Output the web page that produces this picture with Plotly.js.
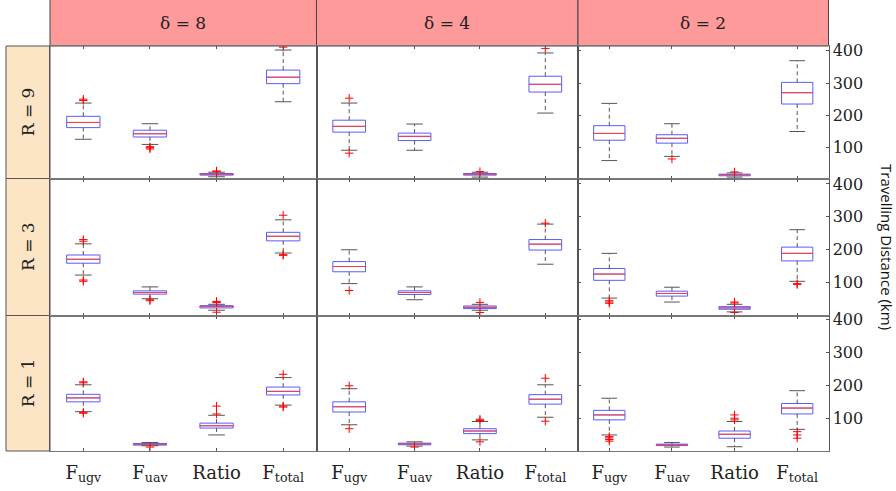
<!DOCTYPE html>
<html>
<head>
<meta charset="utf-8">
<script src="https://cdn.plot.ly/plotly-3.0.1.min.js"></script>
<style>html,body{margin:0;padding:0;background:#fff;}#chart{width:896px;height:491px;}</style>
</head>
<body>
<div id="chart"></div>
<script>
// ---------- data ----------
const categories = ['F<sub>ugv</sub>', 'F<sub>uav</sub>', 'Ratio', 'F<sub>total</sub>'];
const deltaLabels = ['δ = 8', 'δ = 4', 'δ = 2'];
const rLabels = ['R = 9', 'R = 3', 'R = 1'];
const tickValsY = [100, 200, 300, 400];

// each array: [δ=8, δ=4, δ=2], each entry: [F_ugv, F_uav, Ratio, F_total]
const lowR9 = [[126,110,10,242],[92,92,9,207],[60,73,9,150]];
const q1R9  = [[162,133,15,298],[148,122,15,272],[123,114,13,235]];
const medR9 = [[178,143,18,318],[166,135,18,296],[144,129,16,270]];
const q3R9  = [[197,154,20,340],[185,145,20,321],[168,140,18,302]];
const upR9  = [[238,174,24,402],[238,173,24,393],[237,174,22,369]];
const outR9 = [[[250,246],[103,100,96],[26,28],[411]],[[253,83],[],[26],[407]],[[],[65],[25],[]]];

const lowR3 = [[123,51,16,190],[97,48,16,156],[53,41,11,104]];
const q1R3  = [[159,65,23,227],[133,64,21,199],[107,59,19,166]];
const medR3 = [[171,70,27,241],[149,70,25,217],[126,67,23,189]];
const q3R3  = [[184,75,30,253],[164,75,29,231],[143,74,27,208]];
const upR3  = [[218,87,34,291],[200,87,34,278],[189,86,34,261]];
const outR3 = [[[231,226,108,104],[45,48],[41,39,43,10],[305,185,183]],[[76],[],[40,9],[281]],[[45,41,37],[],[41,38,9],[94,97]]];

const lowR1 = [[120,16,49,140],[80,15,34,103],[49,12,13,66]];
const q1R1  = [[150,18,70,171],[119,19,53,143],[95,16.5,39,113]];
const medR1 = [[162,20.5,77,182],[135,21.6,61,158],[110,18.6,51,131]];
const q3R1  = [[173,23,85,195],[150,24,68,172],[124,21,61,145]];
const upR1  = [[202,26,109,224],[190,28,90,202],[161,26,90,184]];
const outR1 = [[[211,208,115,118],[12],[137,113],[234,134,137]],[[199,68],[12],[97,93,28],[222,91]],[[44,40,35,30],[],[110,100,95],[59,49,39]]];

const rowsData = [
  {low: lowR9, q1: q1R9, med: medR9, q3: q3R9, up: upR9, out: outR9},
  {low: lowR3, q1: q1R3, med: medR3, q3: q3R3, up: upR3, out: outR3},
  {low: lowR1, q1: q1R1, med: medR1, q3: q3R1, up: upR1, out: outR1}
];

// ---------- layout geometry ----------
const W = 896, H = 491;
const colPx = [[50,316.5],[316.5,578],[578,828.5]];
const rowPx = [[46,178.5],[178.5,315.5],[315.5,451]];
const rowRange = [[4.6,414.5],[0,416.7],[0,413.4]];
const serif = 'DejaVu Serif';
const boxColor = 'rgb(90,90,255)';
const medColor = 'rgb(255,60,60)';
const whiskColor = '#555';

const boxTraces = [], lineTraces = [], ptTraces = [];
const layout = {
  width: W, height: H,
  margin: {l:0, r:0, t:0, b:0},
  paper_bgcolor: '#fff', plot_bgcolor: '#fff',
  showlegend: false,
  boxmode: 'overlay',
  shapes: [], annotations: []
};

const xs = [0,1,2,3];
for (let r = 0; r < 3; r++) {
  const d = rowsData[r];
  for (let c = 0; c < 3; c++) {
    const k = r*3 + c + 1;
    const xa = 'x' + (k === 1 ? '' : k);
    const ya = 'y' + (k === 1 ? '' : k);
    boxTraces.push({
      type: 'box', x: xs, q1: d.q1[c], median: d.med[c], q3: d.q3[c],
      lowerfence: d.q1[c], upperfence: d.q3[c],
      width: 0.5, whiskerwidth: 0, boxpoints: false,
      line: {color: boxColor, width: 1}, fillcolor: 'rgba(255,255,255,0)',
      xaxis: xa, yaxis: ya, hoverinfo: 'skip'
    });
    const wx = [], wy = [], cx = [], cy = [], mx = [], my = [];
    const ox = [], oy = [];
    for (let i = 0; i < 4; i++) {
      wx.push(i, i, null, i, i, null);
      wy.push(d.q3[c][i], d.up[c][i], null, d.q1[c][i], d.low[c][i], null);
      cx.push(i-0.125, i+0.125, null, i-0.125, i+0.125, null);
      cy.push(d.up[c][i], d.up[c][i], null, d.low[c][i], d.low[c][i], null);
      mx.push(i-0.25, i+0.25, null);
      my.push(d.med[c][i], d.med[c][i], null);
      d.out[c][i].forEach(v => { ox.push(i); oy.push(v); });
    }
    lineTraces.push({type:'scatter', mode:'lines', x: wx, y: wy, xaxis: xa, yaxis: ya,
      line: {color: whiskColor, width: 1, dash: '4px,3px'}, hoverinfo:'skip'});
    lineTraces.push({type:'scatter', mode:'lines', x: cx, y: cy, xaxis: xa, yaxis: ya,
      line: {color: whiskColor, width: 1}, hoverinfo:'skip'});
    lineTraces.push({type:'scatter', mode:'lines', x: mx, y: my, xaxis: xa, yaxis: ya,
      line: {color: medColor, width: 1}, hoverinfo:'skip'});
    ptTraces.push({type:'scatter', mode:'markers', x: ox, y: oy, xaxis: xa, yaxis: ya,
      marker: {symbol:'cross-thin', size: 6, line: {color: 'rgb(255,0,0)', width: 1}},
      hoverinfo:'skip'});

    const xKey = 'xaxis' + (k === 1 ? '' : k);
    const yKey = 'yaxis' + (k === 1 ? '' : k);
    layout[xKey] = {
      domain: [colPx[c][0]/W, colPx[c][1]/W],
      anchor: ya, range: [-0.5, 3.5],
      tickmode: 'array', tickvals: xs, ticktext: categories,
      showticklabels: r === 2, ticklabelstandoff: 5,
      ticks: 'inside', ticklen: 3, tickcolor: '#555',
      showline: true, mirror: 'ticks', linecolor: '#777', linewidth: 1,
      showgrid: false, zeroline: false,
      tickfont: {family: serif, size: 18, color: '#222'}
    };
    layout[yKey] = {
      domain: [1 - rowPx[r][1]/H, 1 - rowPx[r][0]/H],
      anchor: xa, range: rowRange[r],
      tickmode: 'array', tickvals: tickValsY,
      showticklabels: c === 2, side: c === 2 ? 'right' : 'left',
      ticks: c === 2 ? 'inside' : '', ticklen: 3, tickcolor: '#555',
      showline: true, mirror: c === 2 ? 'ticks' : true, linecolor: '#555', linewidth: 1,
      showgrid: false, zeroline: false,
      tickfont: {family: serif, size: 16, color: '#222'}
    };
  }
}

for (let c = 0; c < 3; c++) {
  layout.shapes.push({type:'rect', xref:'paper', yref:'paper',
    x0: colPx[c][0]/W, x1: colPx[c][1]/W, y0: 1 - 46/H, y1: 1 + 2/H,
    fillcolor: '#FF9A9A', line: {color: '#444', width: 1}, layer: 'below'});
  layout.annotations.push({xref:'paper', yref:'paper', showarrow:false,
    x: (colPx[c][0] + colPx[c][1]) / 2 / W, y: 1 - 23/H,
    xanchor:'center', yanchor:'middle', text: deltaLabels[c],
    font: {family: serif, size: 17, color: '#222'}});
}
for (let r = 0; r < 3; r++) {
  layout.shapes.push({type:'rect', xref:'paper', yref:'paper',
    x0: 6/W, x1: 50/W, y0: 1 - rowPx[r][1]/H, y1: 1 - rowPx[r][0]/H,
    fillcolor: '#FCE5C4', line: {color: '#555', width: 1}, layer: 'below'});
  layout.annotations.push({xref:'paper', yref:'paper', showarrow:false,
    x: 28/W, y: 1 - (rowPx[r][0] + rowPx[r][1]) / 2 / H,
    xanchor:'center', yanchor:'middle', textangle: -90, text: rLabels[r],
    font: {family: serif, size: 17, color: '#222'}});
}
layout.annotations.push({xref:'paper', yref:'paper', showarrow:false,
  x: 887/W, y: 1 - 247/H, xanchor:'center', yanchor:'middle', textangle: 90,
  text: 'Travelling Distance (km)', borderpad: 0,
  font: {family: 'Open Sans', size: 15, color: '#111'}});

const data = boxTraces.concat(lineTraces, ptTraces);
Plotly.newPlot('chart', data, layout, {staticPlot: true, displayModeBar: false});
</script>
</body>
</html>
